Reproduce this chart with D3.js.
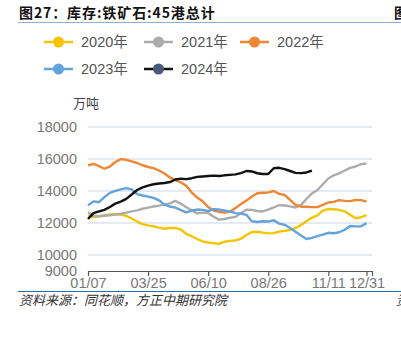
<!DOCTYPE html>
<html><head><meta charset="utf-8">
<script src="https://cdn.jsdelivr.net/npm/d3@7"></script>
<style>
html,body{margin:0;padding:0;background:#fff;}
svg{display:block;font-family:"Liberation Sans","DejaVu Sans",sans-serif;}
</style></head>
<body><svg id="c" width="401" height="345"></svg>
<script>
const seriesNames = ["2020年","2021年","2022年","2023年","2024年"];
const xTickWeeks = [0,11,22,33,44,51];
const xTickLabels = ["01/07","03/25","06/10","08/26","11/11","12/31"];
const yTicks = [9000,10000,12000,14000,16000,18000];

const s2020 = [12420,12370,12420,12480,12530,12560,12530,12440,12280,12090,11930,11850,11790,11710,11640,11690,11690,11590,11320,11170,11000,10850,10780,10740,10690,10830,10880,10910,11010,11250,11430,11450,11400,11350,11370,11460,11510,11560,11690,11870,12110,12340,12480,12770,12875,12860,12820,12730,12510,12300,12360,12490];
const s2021 = [12650,12450,12420,12450,12480,12530,12580,12650,12730,12790,12890,12960,13030,13090,13160,13230,13380,13210,12980,12790,12600,12650,12630,12390,12210,12250,12330,12380,12620,12830,12820,12750,12720,12830,12970,13120,13090,13040,12970,13130,13500,13850,14060,14420,14780,14980,15100,15280,15440,15530,15680,15720];
const s2022 = [15600,15700,15560,15390,15530,15810,15990,15950,15850,15750,15610,15500,15430,15280,15090,14850,14680,14540,14320,13900,13590,13360,13000,12780,12690,12660,12700,12940,13180,13400,13660,13860,13890,13910,14000,13820,13750,13440,13130,13020,13020,12990,12990,13130,13280,13320,13430,13380,13370,13440,13430,13330];
const s2023 = [13100,13350,13300,13620,13880,14010,14100,14180,14100,13800,13720,13650,13570,13420,13150,13030,12960,12800,12660,12780,12840,12820,12750,12860,12840,12780,12730,12620,12590,12510,12110,12060,12110,12090,12170,11960,11890,11690,11460,11220,11000,11070,11180,11270,11390,11360,11420,11580,11810,11790,11800,11990];
const s2024 = [12250,12620,12730,12820,13000,13210,13340,13510,13780,14060,14230,14340,14420,14470,14500,14560,14720,14770,14740,14800,14880,14910,14940,14960,14940,14980,15010,15040,15120,15250,15220,15110,15060,15060,15420,15450,15370,15250,15130,15120,15160,15280];

const allSeries = [s2020,s2021,s2022,s2023,s2024];
const lineColors = ["#f5c400","#acacac","#ef8633","#62a3de","#111111"];
const dotColors  = ["#f5c400","#acacac","#ef8633","#62a3de","#4a5a78"];

const svg = d3.select("#c");
const x = d3.scaleLinear().domain([0,52]).range([88,372]);
const y = d3.scaleLinear().domain([9000,18000]).range([271,127]);

// title
svg.append("text").attr("x",19).attr("y",18).attr("font-size",14).attr("font-weight","bold")
  .attr("letter-spacing",0.9)
  .attr("fill","#111").attr("font-family","'Noto Sans CJK SC',sans-serif").text("图27：库存:铁矿石:45港总计");
svg.append("text").attr("x",394).attr("y",18).attr("font-size",14).attr("font-weight","bold")
  .attr("fill","#111").attr("font-family","'Noto Sans CJK SC',sans-serif").text("图");
svg.append("line").attr("x1",18).attr("x2",401).attr("y1",22.5).attr("y2",22.5)
  .attr("stroke","#8fb0cf").attr("stroke-width",1.2);

// legend
const legPos = [[44,42],[144,42],[240,42],[44,69],[144,69]];
seriesNames.forEach((n,i)=>{
  const [lx,ly] = legPos[i];
  const g = svg.append("g");
  g.append("line").attr("x1",lx).attr("x2",lx+29).attr("y1",ly).attr("y2",ly)
    .attr("stroke",lineColors[i]).attr("stroke-width",2.5);
  g.append("circle").attr("cx",lx+14.5).attr("cy",ly).attr("r",5.5).attr("fill",dotColors[i]);
  g.append("text").attr("x",lx+37).attr("y",ly+5).attr("font-size",14.5).attr("fill","#555")
    .attr("font-family","'Liberation Sans','Noto Sans CJK SC',sans-serif").text(n);
});

// unit
svg.append("text").attr("x",73).attr("y",108).attr("font-size",13).attr("fill","#444")
  .attr("font-family","'Noto Sans CJK SC',sans-serif").text("万吨");

// gridlines
svg.append("g").selectAll("line").data(yTicks.filter(d=>d>9000)).join("line")
  .attr("x1",88).attr("x2",372).attr("y1",d=>y(d)).attr("y2",d=>y(d))
  .attr("stroke","#dfe4ec").attr("stroke-width",1.3);

// y axis labels
const yAxis = d3.axisLeft(y).tickValues(yTicks).tickSize(0).tickPadding(0).tickFormat(d3.format("d"));
const yg = svg.append("g").attr("transform","translate(77,0)").call(yAxis);
yg.select(".domain").remove();
yg.selectAll("text").attr("font-size",14.5).attr("fill","#777").attr("font-family","'Liberation Sans',sans-serif");

// x axis
const xAxis = d3.axisBottom(x).tickValues(xTickWeeks.concat([52])).tickSize(5).tickSizeOuter(0)
  .tickFormat((d,i)=> i < xTickLabels.length ? xTickLabels[i] : "");
const xg = svg.append("g").attr("transform","translate(0,271)").call(xAxis);
xg.select(".domain").attr("stroke","#555").attr("stroke-width",1.2);
xg.selectAll(".tick line").attr("stroke","#555").attr("stroke-width",1.2);
xg.selectAll("text").attr("font-size",14.5).attr("fill","#777").attr("dy","0.6em")
  .attr("font-family","'Liberation Sans',sans-serif");

// lines
const line = d3.line().x((d,i)=>x(i)).y(d=>y(d)).curve(d3.curveLinear);
allSeries.forEach((s,i)=>{
  svg.append("path").datum(s).attr("d",line).attr("fill","none")
    .attr("stroke",lineColors[i]).attr("stroke-width",2.4).attr("stroke-linejoin","round");
});

// footer
svg.append("line").attr("x1",18).attr("x2",401).attr("y1",291.5).attr("y2",291.5)
  .attr("stroke","#2e6da4").attr("stroke-width",1.2);
svg.append("text").attr("x",19).attr("y",305).attr("font-size",13).attr("font-style","italic")
  .attr("fill","#333").attr("font-family","'Noto Sans CJK SC',sans-serif")
  .text("资料来源：同花顺，方正中期研究院");
svg.append("text").attr("x",396).attr("y",305).attr("font-size",13).attr("font-style","italic")
  .attr("fill","#333").attr("font-family","'Noto Sans CJK SC',sans-serif").text("资");
</script></body></html>
